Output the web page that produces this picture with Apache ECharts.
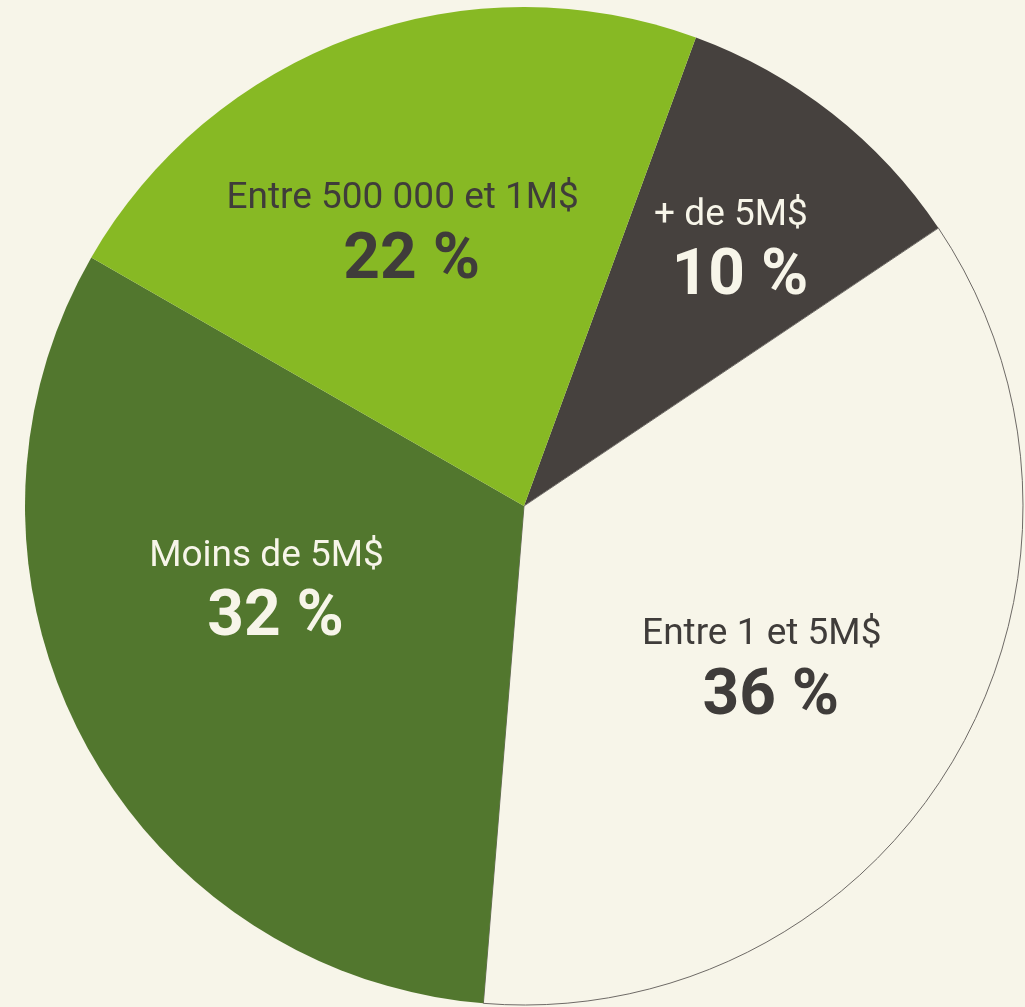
<!DOCTYPE html>
<html>
<head>
<meta charset="utf-8">
<script src="https://cdn.jsdelivr.net/npm/echarts@6/dist/echarts.min.js"></script>
<style>
  html, body { margin: 0; padding: 0; background: #f7f5e9; }
  #chart { width: 1025px; height: 1007px; }
</style>
</head>
<body>
<div id="chart"></div>
<script>
// parts, clockwise from ~20deg past 12 o'clock (shares)
const categories = ['+ de 5M$', 'Entre 1 et 5M$', 'Moins de 5M$', 'Entre 500 000 et 1M$']
const shares = [10.0, 35.7, 32.0, 22.3]

const sliceColors = ['#46413e', '#f7f5e9', '#52772e', '#87b924']
const textColors = ['#f7f5e9', '#3f3c3a', '#f7f5e9', '#3f3c3a']
const labelOffsets = [[51, -55], [20, 38], [-34, -30], [-35, -33]]

const chart = echarts.init(document.getElementById('chart'))

chart.setOption({
  backgroundColor: '#f7f5e9',
  animation: false,
  series: [{
    type: 'pie',
    center: [524, 506],
    radius: [0, 499],
    startAngle: 69.85,
    clockwise: true,
    avoidLabelOverlap: false,
    labelLine: { show: false },
    emphasis: { disabled: true },
    data: categories.map((name, i) => ({
      name: name,
      value: shares[i],
      itemStyle: {
        color: sliceColors[i],
        borderColor: i === 1 ? '#6e6a66' : sliceColors[i],
        borderWidth: i === 1 ? 1 : 0
      },
      label: {
        show: true,
        position: 'inside',
        offset: labelOffsets[i],
        formatter: (p) => `{n|${p.name}}\n{v|${Math.round(p.value)} %}`,
        rich: {
          n: {
            fontFamily: 'Roboto',
            fontSize: 37,
            lineHeight: 52,
            color: textColors[i],
            align: 'center'
          },
          v: {
            fontFamily: 'Roboto',
            fontWeight: 'bold',
            fontSize: 64,
            lineHeight: 74,
            color: textColors[i],
            align: 'center',
            padding: [0, 0, 0, 18]
          }
        }
      }
    }))
  }]
})
</script>
</body>
</html>
